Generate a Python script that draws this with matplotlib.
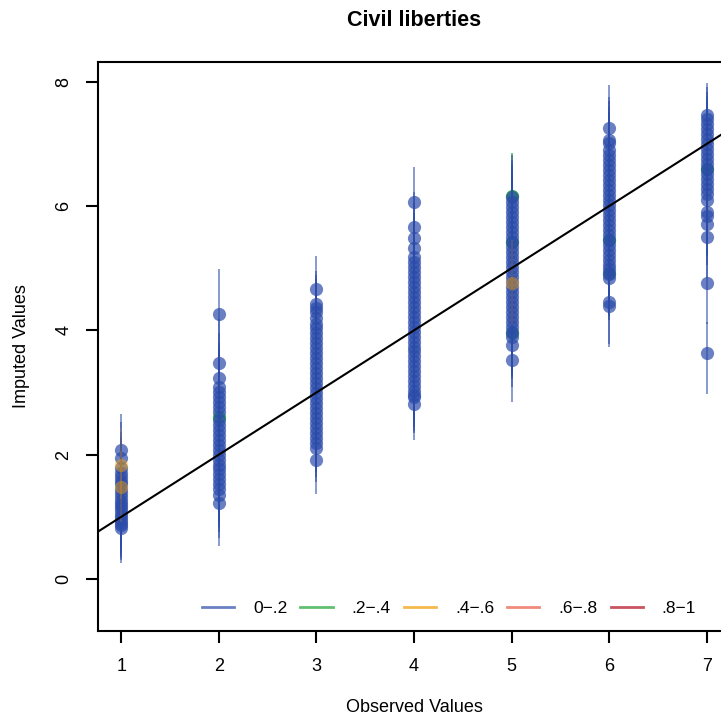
import matplotlib
matplotlib.use("Agg")
import matplotlib.pyplot as plt
from matplotlib.lines import Line2D

plt.rcParams['font.family'] = ['Liberation Sans', 'DejaVu Sans']

# observed value of each column of points
observed = [1, 2, 3, 4, 5, 6, 7]

# mean imputed values (fraction missing 0-.2), one list per observed value
imp_1 = [2.08, 1.95, 1.78, 1.70, 1.64, 1.58, 1.52, 1.44, 1.38, 1.32, 1.26,
         1.20, 1.15, 1.10, 1.05, 1.00, 0.95, 0.90, 0.86, 0.82]
imp_2 = [4.27, 3.47, 3.24, 3.08, 3.00, 2.92, 2.84, 2.76, 2.68, 2.55, 2.48,
         2.40, 2.32, 2.24, 2.16, 2.08, 2.00, 1.92, 1.84, 1.76, 1.68, 1.60,
         1.52, 1.45, 1.35, 1.22]
imp_3 = [4.66, 4.43, 4.36, 4.29, 4.20, 4.11, 4.03, 3.95, 3.87, 3.79, 3.71,
         3.63, 3.55, 3.47, 3.39, 3.31, 3.23, 3.15, 3.07, 2.99, 2.91, 2.83,
         2.75, 2.67, 2.59, 2.51, 2.43, 2.35, 2.27, 2.19, 2.11, 1.92]
imp_4 = [6.06, 5.66, 5.48, 5.32, 5.18, 5.10, 5.02, 4.94, 4.86, 4.78, 4.70,
         4.62, 4.54, 4.46, 4.38, 4.30, 4.22, 4.14, 4.06, 3.98, 3.90, 3.82,
         3.74, 3.66, 3.58, 3.50, 3.42, 3.34, 3.26, 3.18, 3.10, 3.02, 2.96,
         2.92, 2.81]
imp_5 = [6.14, 6.06, 5.98, 5.90, 5.82, 5.74, 5.66, 5.58, 5.50, 5.42, 5.34,
         5.26, 5.18, 5.10, 5.02, 4.94, 4.86, 4.78, 4.70, 4.62, 4.54, 4.46,
         4.38, 4.30, 4.22, 4.14, 4.06, 3.98, 3.89, 3.76, 3.52]
imp_6 = [7.26, 7.06, 7.01, 6.90, 6.82, 6.74, 6.66, 6.58, 6.50, 6.42, 6.34,
         6.26, 6.18, 6.10, 6.02, 5.94, 5.86, 5.78, 5.70, 5.62, 5.54, 5.46,
         5.38, 5.30, 5.22, 5.14, 5.06, 4.98, 4.90, 4.84, 4.45, 4.40]
imp_7 = [7.47, 7.40, 7.32, 7.24, 7.16, 7.08, 7.00, 6.92, 6.84, 6.76, 6.68,
         6.60, 6.52, 6.44, 6.36, 6.28, 6.20, 6.10, 5.90, 5.84, 5.71, 5.50,
         4.76, 3.63]
blue_imputed = [imp_1, imp_2, imp_3, imp_4, imp_5, imp_6, imp_7]

# interval reach below / above the mean, per observed value
ci_below = [0.56, 0.69, 0.55, 0.58, 0.68, 0.67, 0.65]
ci_above = [0.58, 0.71, 0.53, 0.57, 0.69, 0.69, 0.51]

# points with a larger fraction missing
other_obs = [1, 1, 2, 5, 5, 5, 5, 6, 6, 7]
other_imp = [1.84, 1.48, 2.61, 6.16, 5.42, 4.77, 3.95, 5.45, 4.92, 6.60]
other_cat = [2, 2, 1, 1, 1, 2, 1, 1, 1, 1]

legend_labels = ["0\u2212.2", ".2\u2212.4", ".4\u2212.6", ".6\u2212.8", ".8\u22121"]
colors = ["#2b4baa", "#1ea535", "#f29c00", "#ea5a44", "#b20a1c"]
alpha = 0.7

fig = plt.figure(figsize=(7.21, 7.19), dpi=100)
W, H = 721, 719
ax = fig.add_axes([98 / W, 1 - 631 / H, 632 / W, 569 / H])

# green points sit under the blue ones
for o, m, c in zip(other_obs, other_imp, other_cat):
    if c != 1:
        continue
    g = observed.index(o)
    ax.plot([o, o], [m - ci_below[g], m + ci_above[g]], color=colors[c],
            alpha=alpha, lw=1.3, solid_capstyle='butt')
    ax.plot(o, m, 'o', color=colors[c], alpha=0.85, ms=9.5, mec='none')

for g, o in enumerate(observed):
    for m in blue_imputed[g]:
        ax.plot([o, o], [m - ci_below[g], m + ci_above[g]], color=colors[0],
                alpha=0.6, lw=1.3, solid_capstyle='butt')
    ax.plot([o] * len(blue_imputed[g]), blue_imputed[g], 'o', color=colors[0],
            alpha=alpha, ms=9.5, mec='none', ls='none')

# orange points drawn last, faintly
for o, m, c in zip(other_obs, other_imp, other_cat):
    if c == 1:
        continue
    g = observed.index(o)
    ax.plot([o, o], [m - ci_below[g], m + ci_above[g]], color=colors[c],
            alpha=0.2, lw=1.3, solid_capstyle='butt')
    ax.plot(o, m, 'o', color=colors[c], alpha=0.45, ms=9.5, mec='none')

ax.set_xlim(0.76, 7.24)
ax.set_ylim(-0.84, 8.32)
ax.axline((0, 0), slope=1, color='black', lw=1.5)

ax.set_xticks(observed)
ax.set_yticks([0, 2, 4, 6, 8])
for s in ax.spines.values():
    s.set_linewidth(1.5)
ax.tick_params(axis='both', length=8.5, width=1.5, labelsize=13)
ax.tick_params(axis='x', pad=11)
ax.tick_params(axis='y', pad=10)
for lab in ax.get_yticklabels():
    lab.set_rotation(90)
    lab.set_va('center')

handles = [Line2D([], [], color=c, alpha=alpha, lw=2) for c in colors]
fig.legend(handles, legend_labels, loc='center left',
           bbox_to_anchor=(202 / W, 1 - 608 / H), ncol=5, frameon=False,
           fontsize=12.5, handlelength=1.85, handletextpad=1.1,
           columnspacing=0.75, borderpad=0, borderaxespad=0)

fig.text(414 / W, 1 - 20 / H, "Civil liberties", ha='center', va='center',
         fontsize=15.5, fontweight='bold')
fig.text(414 / W, 1 - 708 / H, "Observed Values", ha='center', va='center',
         fontsize=13)
fig.text(22 / W, 1 - 346 / H, "Imputed Values", ha='center', va='center',
         fontsize=13, rotation=90)

fig.savefig("out.png", dpi=100)
